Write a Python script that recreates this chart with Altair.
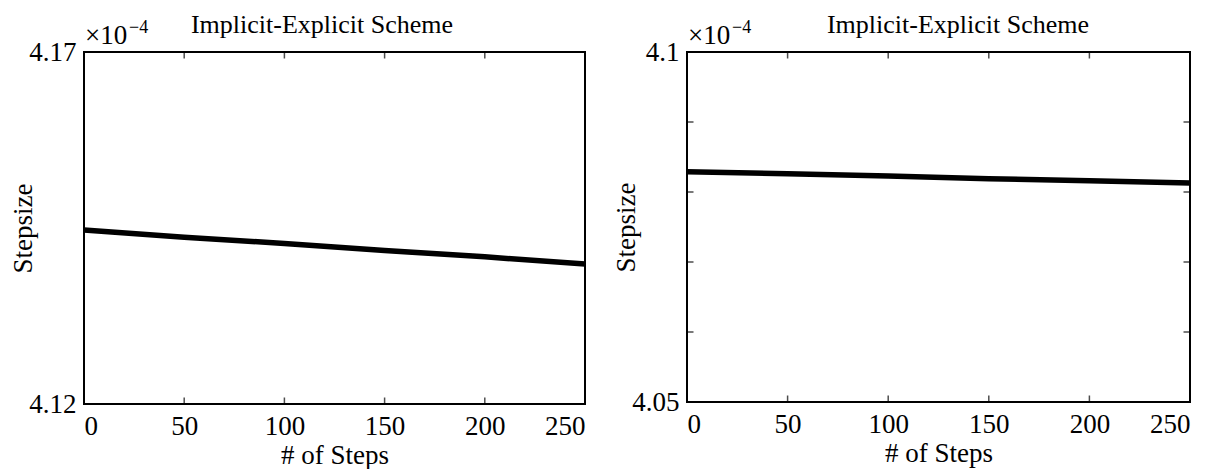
import altair as alt
import pandas as pd

# ---- data ----
steps = [0, 50, 100, 150, 200, 250]
left_vals = [4.1447, 4.1437, 4.1428, 4.1418, 4.1409, 4.1399]     # x 1e-4
right_vals = [4.0829, 4.0826, 4.0823, 4.0819, 4.0816, 4.0813]    # x 1e-4

x_ticks = [0, 50, 100, 150, 200, 250]
x_inner = [50, 100, 150, 200]
left_y_domain = [4.12, 4.17]
right_y_domain = [4.05, 4.10]
right_y_inner = [4.06, 4.07, 4.08, 4.09]

title_text = "Implicit-Explicit Scheme"
exp_base = "×10"
exp_power = "−4"
x_title = "# of Steps"
y_title = "Stepsize"

FONT = "Liberation Serif"


def panel(vals, ydom, yfmt, y_inner, w, h, title_cx):
    df = pd.DataFrame({"step": steps, "val": vals})
    xs = alt.Scale(domain=[0, 250], nice=False, zero=False)
    ys = alt.Scale(domain=ydom, nice=False, zero=False)
    line = alt.Chart(df).mark_line(color="black", strokeWidth=5.5).encode(
        x=alt.X("step:Q", scale=xs,
                axis=alt.Axis(values=x_ticks, title=x_title, grid=False, domain=False,
                              ticks=False, tickSize=0, labelPadding=9, format="d",
                              labelFontSize=27, titleFontSize=27, titleFontWeight="normal",
                              titlePadding=3, labelFont=FONT, titleFont=FONT,
                              labelColor="black", titleColor="black")),
        y=alt.Y("val:Q", scale=ys,
                axis=alt.Axis(values=ydom, title=y_title, grid=False, domain=False,
                              ticks=False, tickSize=0, labelPadding=8, format=yfmt,
                              labelFontSize=27, titleFontSize=27, titleFontWeight="normal",
                              titleX=-47, titleY=h / 2, labelFont=FONT, titleFont=FONT,
                              labelColor="black", titleColor="black")),
    )
    tdf = pd.DataFrame({"tx": x_inner * 2,
                        "ty": [ydom[0]] * len(x_inner) + [ydom[1]] * len(x_inner)})
    xt = alt.Chart(tdf).mark_tick(orient="vertical", color="black", size=13,
                                  thickness=1.5, clip=True).encode(
        x=alt.X("tx:Q", scale=xs), y=alt.Y("ty:Q", scale=ys))
    layers = [line, xt]
    if y_inner:
        ydf = pd.DataFrame({"yx": [0] * len(y_inner) + [250] * len(y_inner),
                            "yy": y_inner * 2})
        yt = alt.Chart(ydf).mark_tick(orient="horizontal", color="black", size=13,
                                      thickness=1.5, clip=True).encode(
            x=alt.X("yx:Q", scale=xs), y=alt.Y("yy:Q", scale=ys))
        layers.append(yt)
    ttl = alt.Chart(pd.DataFrame({"t": [title_text]})).mark_text(
        font=FONT, fontSize=26, align="center", baseline="alphabetic", color="black"
    ).encode(text="t:N", x=alt.value(title_cx), y=alt.value(-19))
    ex1 = alt.Chart(pd.DataFrame({"t": [exp_base]})).mark_text(
        font=FONT, fontSize=27, align="left", baseline="alphabetic", color="black"
    ).encode(text="t:N", x=alt.value(1), y=alt.value(-8))
    ex2 = alt.Chart(pd.DataFrame({"t": [exp_power]})).mark_text(
        font=FONT, fontSize=18, align="left", baseline="alphabetic", color="black"
    ).encode(text="t:N", x=alt.value(45), y=alt.value(-19))
    layers += [ttl, ex1, ex2]
    return alt.layer(*layers).properties(width=w, height=h)


left = panel(left_vals, left_y_domain, ".2f", [], 501, 352, 238)
right = panel(right_vals, right_y_domain, ".2~f", right_y_inner, 503, 350, 271)

chart = alt.hconcat(left, right, spacing=14).properties(
    padding={"left": 0, "top": 3, "right": 0, "bottom": 0}
).configure(background="white").configure_view(stroke="black", strokeWidth=2)

chart.save("out.html", embed_options={"renderer": "svg", "actions": False})
